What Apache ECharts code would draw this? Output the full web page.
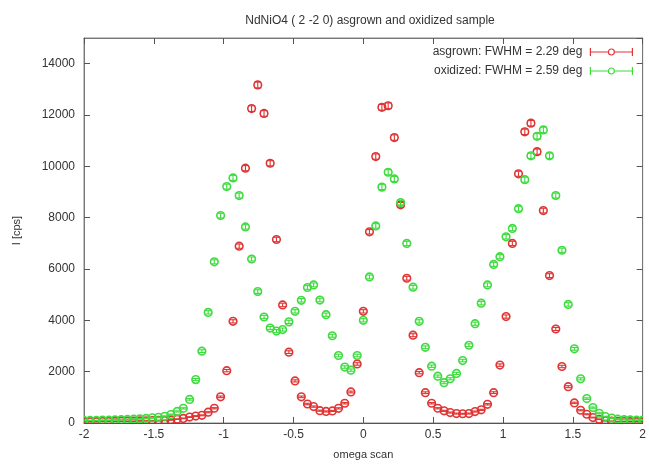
<!DOCTYPE html>
<html>
<head>
<meta charset="utf-8">
<script src="https://cdn.jsdelivr.net/npm/echarts@6/dist/echarts.min.js"></script>
<style>
html,body{margin:0;padding:0;background:#fff;}
#chart{width:649px;height:465px;}
</style>
</head>
<body>
<div id="chart"></div>
<script>
// omega scan positions (deg)
const omega = [
 -2, -1.956, -1.911, -1.867, -1.822, -1.778, -1.733, -1.689, -1.644, -1.6,
 -1.556, -1.511, -1.467, -1.422, -1.378, -1.333, -1.289, -1.244, -1.2, -1.156,
 -1.111, -1.067, -1.022, -0.978, -0.933, -0.889, -0.844, -0.8, -0.756, -0.711,
 -0.667, -0.622, -0.578, -0.533, -0.489, -0.444, -0.4, -0.356, -0.311, -0.267,
 -0.222, -0.178, -0.133, -0.089, -0.044, 0, 0.044, 0.089, 0.133, 0.178,
 0.222, 0.267, 0.311, 0.356, 0.4, 0.444, 0.489, 0.533, 0.578, 0.622,
 0.667, 0.711, 0.756, 0.8, 0.844, 0.889, 0.933, 0.978, 1.022, 1.067,
 1.111, 1.156, 1.2, 1.244, 1.289, 1.333, 1.378, 1.422, 1.467, 1.511,
 1.556, 1.6, 1.644, 1.689, 1.733, 1.778, 1.822, 1.867, 1.911, 1.956, 2
];
// asgrown intensities (cps)
const asgrown = [
 50, 50, 50, 60, 60, 60, 70, 70, 70, 80,
 80, 90, 100, 100, 120, 150, 180, 230, 270, 300,
 420, 574, 1020, 2040, 3960, 6890, 9930, 12250, 13170, 12060,
 10120, 7150, 4600, 2760, 1640, 1020, 740, 640, 480, 450,
 470, 570, 770, 1210, 2300, 4350, 7450, 10380, 12300, 12360,
 11120, 8500, 5640, 3420, 1960, 1180, 770, 574, 473, 407,
 368, 360, 368, 446, 512, 729, 1182, 2256, 4147, 6996,
 9710, 11345, 11680, 10570, 8275, 5743, 3663, 2201, 1415, 783,
 496, 341, 213, 147, 85, 70, 60, 55, 50, 50, 50
];
// oxidized intensities (cps)
const oxidized = [
 100, 100, 100, 110, 110, 120, 130, 140, 150, 160,
 180, 200, 220, 260, 330, 450, 570, 920, 1690, 2800,
 4310, 6280, 8080, 9210, 9550, 8860, 7640, 6390, 5120, 4130,
 3700, 3580, 3640, 3940, 4350, 4780, 5280, 5380, 4790, 4220,
 3400, 2630, 2180, 2060, 2630, 4000, 5690, 7680, 9190, 9770,
 9510, 8590, 6995, 5290, 3960, 2950, 2215, 1826, 1570, 1724,
 1930, 2434, 3030, 3870, 4670, 5380, 6180, 6480, 7255, 7580,
 8350, 9480, 10410, 11170, 11420, 10410, 8860, 6730, 4620, 2890,
 1720, 950, 600, 380, 250, 190, 150, 130, 120, 110, 110
];
const seriesNames = ['asgrown: FWHM = 2.29 deg', 'oxidized: FWHM = 2.59 deg'];
const xTicks = {min: -2, max: 2, interval: 0.5};
const yTicks = {min: 0, max: 15000, interval: 2000};

const RED = '#e03535';
const GREEN = '#3fdc3f';
const FONT = "'Liberation Sans', Arial, sans-serif";

function pairs(xs, ys){ return xs.map((x, i) => [x, ys[i]]); }

function makeRender(color){
  return function(params, api){
    const x = api.value(0), y = api.value(1);
    const e = Math.sqrt(Math.max(y, 0));
    const p = api.coord([x, y]);
    const pt = api.coord([x, y + e]);
    const pb = api.coord([x, y - e]);
    const w = 3.6;
    const st = {stroke: color, lineWidth: 1.1, fill: null};
    return {type: 'group', children: [
      {type: 'circle', shape: {cx: p[0], cy: p[1], r: 3.8},
       style: {stroke: color, fill: 'rgba(255,255,255,0)', lineWidth: 1.6}},
      {type: 'line', shape: {x1: p[0], y1: pt[1], x2: p[0], y2: pb[1]}, style: st},
      {type: 'line', shape: {x1: p[0] - w, y1: pt[1], x2: p[0] + w, y2: pt[1]}, style: st},
      {type: 'line', shape: {x1: p[0] - w, y1: pb[1], x2: p[0] + w, y2: pb[1]}, style: st}
    ]};
  };
}

const legendIcon = 'path://M0,1 L0,9 M0,5 L18,5 M24,5 L42,5 M42,1 L42,9 M24,5 A3,3 0 1 1 18,5 A3,3 0 1 1 24,5';

const axisLineStyle = {color: '#777', width: 1};
const option = {
  animation: false,
  backgroundColor: '#fff',
  title: {
    text: 'NdNiO4 ( 2 -2 0) asgrown and oxidized sample',
    left: 365, top: 10, textAlign: 'center',
    textStyle: {fontFamily: FONT, fontSize: 12, fontWeight: 'normal', color: '#333'}
  },
  legend: {
    right: 11, top: 41, orient: 'vertical', align: 'right',
    itemWidth: 42, itemHeight: 8, itemGap: 7,
    textStyle: {fontFamily: FONT, fontSize: 12, color: '#333', padding: [0, 3, 0, 0]},
    data: [
      {name: seriesNames[0], icon: legendIcon, itemStyle: {color: 'rgba(0,0,0,0)', borderColor: RED, borderWidth: 1.2}},
      {name: seriesNames[1], icon: legendIcon, itemStyle: {color: 'rgba(0,0,0,0)', borderColor: GREEN, borderWidth: 1.2}}
    ]
  },
  grid: {left: 84, right: 4, top: 38, bottom: 39.5, show: true, borderColor: '#888', borderWidth: 1},
  xAxis: [
    {type: 'value', position: 'bottom', min: xTicks.min, max: xTicks.max, interval: xTicks.interval,
     axisLine: {onZero: false, lineStyle: {color: '#555'}},
     axisTick: {inside: true, length: 6, lineStyle: {color: '#555'}},
     axisLabel: {margin: 6, fontFamily: FONT, fontSize: 12, color: '#333'},
     splitLine: {show: false},
     name: 'omega scan', nameLocation: 'middle', nameGap: 26,
     nameTextStyle: {fontFamily: FONT, fontSize: 11, color: '#333'}},
    {type: 'value', position: 'top', min: xTicks.min, max: xTicks.max, interval: xTicks.interval,
     axisLine: {onZero: false, lineStyle: axisLineStyle},
     axisTick: {inside: true, length: 6, lineStyle: {color: '#555'}},
     axisLabel: {show: false}, splitLine: {show: false}}
  ],
  yAxis: [
    {type: 'value', position: 'left', min: yTicks.min, max: yTicks.max, interval: yTicks.interval,
     axisLine: {show: true, onZero: false, lineStyle: axisLineStyle},
     axisTick: {show: true, inside: true, length: 6, lineStyle: {color: '#555'}},
     axisLabel: {margin: 9, fontFamily: FONT, fontSize: 12, color: '#333', showMaxLabel: false,
                 formatter: v => String(v)},
     splitLine: {show: false},
     name: 'I [cps]', nameLocation: 'middle', nameGap: 62,
     nameTextStyle: {fontFamily: FONT, fontSize: 11, color: '#333'}},
    {type: 'value', position: 'right', min: yTicks.min, max: yTicks.max, interval: yTicks.interval,
     axisLine: {show: true, onZero: false, lineStyle: axisLineStyle},
     axisTick: {show: true, inside: true, length: 6, lineStyle: {color: '#555'}},
     axisLabel: {show: false}, splitLine: {show: false}}
  ],
  series: [
    {name: seriesNames[0], type: 'custom', xAxisIndex: 0, yAxisIndex: 0, clip: true,
     itemStyle: {color: RED}, encode: {x: 0, y: 1},
     renderItem: makeRender(RED), data: pairs(omega, asgrown)},
    {name: seriesNames[1], type: 'custom', xAxisIndex: 0, yAxisIndex: 0, clip: true,
     itemStyle: {color: GREEN}, encode: {x: 0, y: 1},
     renderItem: makeRender(GREEN), data: pairs(omega, oxidized)}
  ]
};
const chart = echarts.init(document.getElementById('chart'), null, {renderer: 'canvas'});
chart.setOption(option);
</script>
</body>
</html>
